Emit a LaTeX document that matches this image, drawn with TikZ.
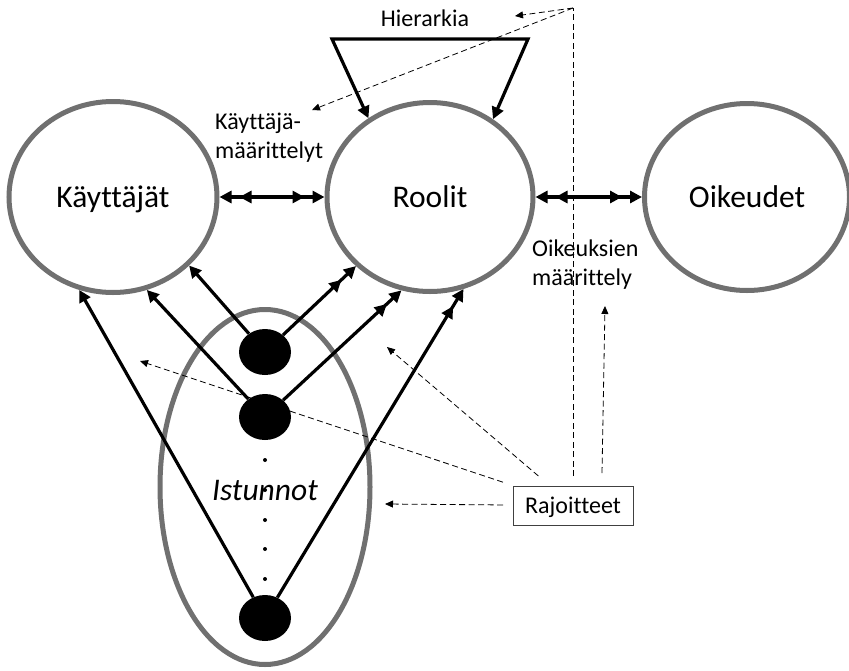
\documentclass[tikz,border=0pt]{standalone}
\usepackage{fontspec}
\setmainfont{Carlito}[Ligatures=NoCommon]
\usetikzlibrary{shapes.geometric,arrows.meta}
\definecolor{cgray}{RGB}{112,112,112}
\tikzset{
  bigc/.style={ellipse, draw=cgray, line width=5pt, inner sep=0pt,
    font=\fontsize{31.5}{37}\selectfont, text height=20pt, text depth=0pt},
  blk/.style={line width=3.2pt, black, line join=miter},
  sarr/.style={blk, -{Triangle[length=12pt,width=12pt]}},
  darr/.style={blk, -{Triangle[length=12pt,width=12pt,sep=8pt]Triangle[length=12pt,width=12pt]}},
  ddarr/.style={blk, {Triangle[length=12pt,width=12pt]Triangle[length=12pt,width=12pt,sep=8pt]}-{Triangle[length=12pt,width=12pt,sep=8pt]Triangle[length=12pt,width=12pt]}},
  dsh/.style={line width=0.8pt, dash pattern=on 6pt off 3.5pt},
  dsharr/.style={dsh, -{Triangle[length=8pt,width=7pt]}},
  lbl/.style={font=\fontsize{24}{29}\selectfont, inner sep=0pt},
  sdot/.style={ellipse, fill=black, minimum width=52pt, minimum height=46pt, inner sep=0pt},
  tdot/.style={circle, fill=black, minimum size=4pt, inner sep=0pt},
}
\begin{document}
\begin{tikzpicture}[x=1pt,y=1pt]
\useasboundingbox (0,0) rectangle (849,-670);
% main ellipses
\node[bigc, minimum width=208pt, minimum height=191pt] (K) at (113,-197) {Käyttäjät};
\node[bigc, minimum width=206pt, minimum height=189pt] (R) at (430,-197) {Roolit};
\node[bigc, minimum width=205pt, minimum height=187pt] (O) at (747,-197) {Oikeudet};
\node[ellipse, draw=cgray, line width=5pt, inner sep=0pt, minimum width=210pt, minimum height=355pt] (S) at (265,-487) {};
% sessions
\node[tdot] (p1) at (265,-460) {};
\node[tdot] (p2) at (265,-490) {};
\node[tdot] (p3) at (265,-520) {};
\node[tdot] (p4) at (265,-549) {};
\node[tdot] (p5) at (265,-579) {};
\node[font=\fontsize{31.5}{37}\selectfont\itshape, inner sep=0pt, anchor=base] (ist) at (265,-500) {Istunnot};
\node[sdot] (d1) at (265,-352) {};
\node[sdot] (d2) at (265,-417) {};
\node[sdot] (d3) at (265,-618) {};
% labels
\node[lbl, anchor=base] (hier) at (425,-26) {Hierarkia};
\node[lbl, anchor=base west, align=left] (ulbl) at (215,-158) {Käyttäjä-\\määrittelyt};
\node[lbl, anchor=base west, align=left] (olbl) at (532,-285) {Oikeuksien\\määrittely};
\node[draw=black!75, line width=0.8pt, minimum width=120pt, minimum height=39pt, inner sep=0pt,
  font=\fontsize{24}{29}\selectfont, text height=15pt, text depth=0pt, outer sep=10pt] (raj) at (573,-505.5) {Rajoitteet};
% solid connectors
\draw[ddarr] (K.east) -- (R.west);
\draw[ddarr] (R.east) -- (O.west);
\coordinate (h1) at (332,-39);
\coordinate (h2) at (528,-39);
\draw[blk, {Triangle[length=12pt,width=12pt]}-{Triangle[length=12pt,width=12pt]}] (R.128.1) -- (h1) -- (h2) -- (R.51.4);
\draw[sarr] (d1) -- (K.-42.3);
\draw[sarr] (d2) -- (K.-70.1);
\draw[sarr] (d3) -- (K.-110.4);
\draw[darr] (d1) -- (R.-137);
\draw[darr] (d2) -- (R.-107.2);
\draw[darr] (d3) -- (R.-70.8);
% dashed connectors
\coordinate (T) at (573,-8);
\coordinate (hp) at (515,-16);
\coordinate (up) at (312,-110);
\coordinate (c1) at (387,-347);
\coordinate (c2) at (140,-361);
\coordinate (c3) at (385,-504);
\coordinate (vp) at (605,-306);
\draw[dsh] (raj) -- (T);
\draw[dsharr] (T) -- (hp);
\draw[dsharr] (T) -- (up);
\draw[dsharr] (raj) -- (c1);
\draw[dsharr] (raj) -- (c2);
\draw[dsharr] (raj) -- (c3);
\draw[dsharr] ([xshift=29pt,yshift=3pt]raj.north) -- (vp);
\end{tikzpicture}
\end{document}
